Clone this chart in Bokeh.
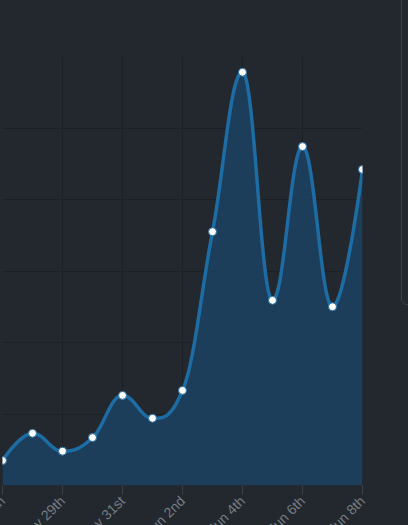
import numpy as np
from bokeh.plotting import figure
from bokeh.models import Range1d, FixedTicker, Div
from bokeh.embed import file_html
from bokeh.resources import INLINE
import math

# ---- data ----
days = ["May 27th", "May 28th", "May 29th", "May 30th", "May 31st", "Jun 1st",
        "Jun 2nd", "Jun 3rd", "Jun 4th", "Jun 5th", "Jun 6th", "Jun 7th", "Jun 8th"]
values = [3.5, 7.3, 4.8, 6.7, 12.6, 9.4, 13.3, 35.5, 57.8, 25.9, 47.4, 25.0, 44.2]
tick_idx = [0, 2, 4, 6, 8, 10, 12]
y_ticks = [0, 10, 20, 30, 40, 50, 60]

BG = "#23282e"
LINE = "#1e6ca4"
FILL = "#1a4467"
GRID = "#1d2126"
LABEL = "#767c83"

xs = np.arange(len(values), dtype=float)
ys = np.array(values, dtype=float)


def spline_curve(xs, ys, smoothing=1.5, n=40):
    N = len(xs)
    lc = [(xs[i], ys[i]) for i in range(N)]
    rc = [(xs[i], ys[i]) for i in range(N)]
    d = smoothing + 1
    for i in range(1, N - 1):
        x, y = xs[i], ys[i]
        lx, ly = xs[i - 1], ys[i - 1]
        nx, ny = xs[i + 1], ys[i + 1]
        lcx = (smoothing * x + lx) / d
        lcy = (smoothing * y + ly) / d
        rcx = (smoothing * x + nx) / d
        rcy = (smoothing * y + ny) / d
        if rcx != lcx:
            corr = ((rcy - lcy) * (rcx - x)) / (rcx - lcx) + y - rcy
            lcy += corr
            rcy += corr
        if lcy > ly and lcy > y:
            lcy = max(ly, y); rcy = 2 * y - lcy
        elif lcy < ly and lcy < y:
            lcy = min(ly, y); rcy = 2 * y - lcy
        if rcy > ny and rcy > y:
            rcy = max(ny, y); lcy = 2 * y - rcy
        elif rcy < ny and rcy < y:
            rcy = min(ny, y); lcy = 2 * y - rcy
        lc[i] = (lcx, lcy)
        rc[i] = (rcx, rcy)
    cx, cy = [xs[0]], [ys[0]]
    t = np.linspace(0, 1, n)[1:]
    for i in range(1, N):
        p0 = (xs[i - 1], ys[i - 1]); p1 = rc[i - 1]; p2 = lc[i]; p3 = (xs[i], ys[i])
        bx = (1 - t) ** 3 * p0[0] + 3 * (1 - t) ** 2 * t * p1[0] + 3 * (1 - t) * t ** 2 * p2[0] + t ** 3 * p3[0]
        by = (1 - t) ** 3 * p0[1] + 3 * (1 - t) ** 2 * t * p1[1] + 3 * (1 - t) * t ** 2 * p2[1] + t ** 3 * p3[1]
        cx.extend(bx.tolist()); cy.extend(by.tolist())
    return np.array(cx), np.array(cy)


cx, cy = spline_curve(xs, ys)

p = figure(width=466, height=553, output_backend="svg", toolbar_location=None,
           x_range=Range1d(0, 12), y_range=Range1d(0, 60),
           min_border_left=60, min_border_right=46, min_border_top=56, min_border_bottom=40,
           styles={"position": "fixed", "left": "-58px", "top": "0px",
                   "background-color": BG})
p.background_fill_color = BG
p.border_fill_color = BG
p.outline_line_color = None

p.varea(x=cx, y1=np.zeros_like(cy), y2=cy, fill_color=FILL, fill_alpha=0.8)
p.line(cx, cy, line_color=LINE, line_width=3.5)
p.scatter(xs, ys, size=8, fill_color="white", line_color=LINE, line_width=1)

p.xaxis.ticker = FixedTicker(ticks=tick_idx)
p.xaxis.major_label_overrides = {i: days[i] for i in tick_idx}
p.xaxis.major_label_orientation = math.pi / 4
p.xaxis.major_label_text_color = LABEL
p.xaxis.major_label_text_font = "Liberation Sans"
p.xaxis.major_label_text_font_size = "14px"
p.xaxis.major_label_standoff = 4
p.xaxis.axis_line_color = None
p.xaxis.major_tick_line_color = "#3a3f46"
p.xaxis.major_tick_out = 9
p.xaxis.major_tick_in = 0
p.xaxis.minor_tick_line_color = None

p.yaxis.ticker = FixedTicker(ticks=y_ticks)
p.yaxis.visible = False

p.xgrid.grid_line_color = GRID
p.ygrid.grid_line_color = GRID

panel = Div(text="", width=40, height=320,
            styles={"position": "fixed", "left": "396px", "top": "-20px",
                    "border": "1px solid #3a4149", "border-radius": "6px",
                    "box-sizing": "border-box", "background-color": BG})

open("out.html", "w").write(file_html([p, panel], INLINE))
